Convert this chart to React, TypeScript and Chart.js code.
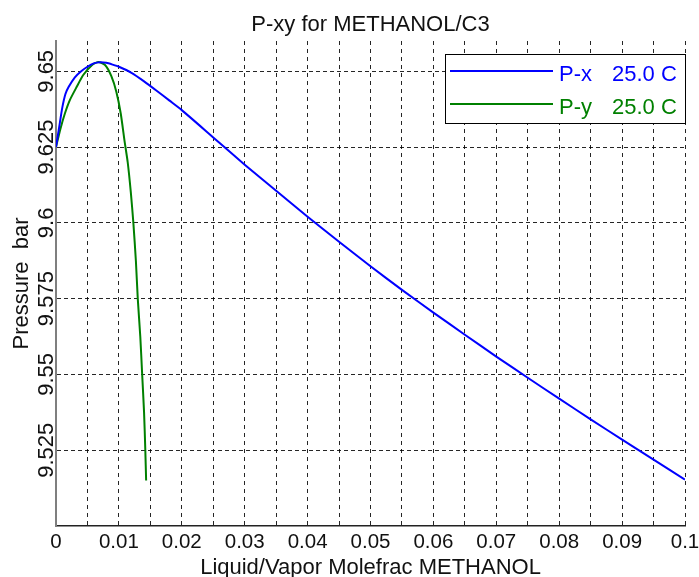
import React, { useEffect, useRef } from "react";
import { Chart, registerables } from "chart.js";

Chart.register(...registerables);

// ---- data ----
const titleText = "P-xy for METHANOL/C3";
const xTitle = "Liquid/Vapor Molefrac METHANOL";
const yTitle = "Pressure  bar";
const seriesNames = ["P-x", "P-y"];
const seriesTemps = ["25.0 C", "25.0 C"];
const seriesColors = ["#0000ff", "#008000"];

// P-x (liquid composition vs pressure)
const liquidX = [
  0, 0.0005, 0.001, 0.0015, 0.002, 0.003, 0.004, 0.005, 0.006, 0.007, 0.008, 0.009, 0.01,
  0.012, 0.014, 0.016, 0.018, 0.02, 0.025, 0.03, 0.035, 0.04, 0.045, 0.05, 0.055, 0.06,
  0.065, 0.07, 0.075, 0.08, 0.085, 0.09, 0.095, 0.1,
];
const liquidP = [
  9.625, 9.6315, 9.638, 9.6425, 9.6448, 9.648, 9.65, 9.6515, 9.6526, 9.653, 9.6528, 9.6522,
  9.6515, 9.6495, 9.6467, 9.6436, 9.6404, 9.6372, 9.6282, 9.6192, 9.6106, 9.602, 9.5938,
  9.5857, 9.5779, 9.5704, 9.5631, 9.5559, 9.5489, 9.542, 9.5352, 9.5285, 9.5219, 9.5153,
];

// P-y (vapor composition vs pressure)
const vaporY = [
  0, 0.0007, 0.0014, 0.0022, 0.0033, 0.0043, 0.0057, 0.0067, 0.0078, 0.0088, 0.0096, 0.0103,
  0.0109, 0.0114, 0.0119, 0.0123, 0.0127, 0.013, 0.0134, 0.0137, 0.014, 0.0142, 0.01433,
];
const vaporP = [
  9.625, 9.631, 9.636, 9.6405, 9.6449, 9.6487, 9.652, 9.6531, 9.6521, 9.6484, 9.6432, 9.636,
  9.627, 9.62, 9.61, 9.6, 9.5875, 9.575, 9.5625, 9.55, 9.5375, 9.525, 9.515,
];

const xMin = 0;
const xMax = 0.1;
const yMin = 9.5;
const yMax = 9.66;

const xGridValues = [
  0, 0.005, 0.01, 0.015, 0.02, 0.025, 0.03, 0.035, 0.04, 0.045, 0.05, 0.055, 0.06, 0.065,
  0.07, 0.075, 0.08, 0.085, 0.09, 0.095, 0.1,
];
const xTickValues = [0, 0.01, 0.02, 0.03, 0.04, 0.05, 0.06, 0.07, 0.08, 0.09, 0.1];
const xTickLabels = ["0", "0.01", "0.02", "0.03", "0.04", "0.05", "0.06", "0.07", "0.08", "0.09", "0.1"];
const yTickValues = [9.525, 9.55, 9.575, 9.6, 9.625, 9.65];
const yTickLabels = ["9.525", "9.55", "9.575", "9.6", "9.625", "9.65"];

const FONT = '"Liberation Sans", Arial, Helvetica, sans-serif';

const textPlugin = {
  id: "matlabText",
  afterDraw(chart: any) {
    const { ctx, chartArea, scales } = chart;
    const xs = scales.x;
    const ys = scales.y;
    const cx = (chartArea.left + chartArea.right) / 2;
    const cy = (chartArea.top + chartArea.bottom) / 2;
    ctx.save();
    ctx.fillStyle = "#111";
    ctx.textBaseline = "alphabetic";
    ctx.textAlign = "center";

    // title
    ctx.font = `22px ${FONT}`;
    ctx.fillText(titleText, cx, chartArea.top - 10);

    // x tick labels
    ctx.font = `20.5px ${FONT}`;
    xTickValues.forEach((v, i) => {
      ctx.fillText(xTickLabels[i], xs.getPixelForValue(v), chartArea.bottom + 22);
    });

    // x title
    ctx.font = `22px ${FONT}`;
    ctx.fillText(xTitle, cx, chartArea.bottom + 48);

    // y tick labels (rotated)
    ctx.font = `22px ${FONT}`;
    yTickValues.forEach((v, i) => {
      ctx.save();
      ctx.translate(chartArea.left - 3, ys.getPixelForValue(v));
      ctx.rotate(-Math.PI / 2);
      ctx.fillText(yTickLabels[i], 0, 0);
      ctx.restore();
    });

    // y title
    ctx.save();
    ctx.translate(28, cy);
    ctx.rotate(-Math.PI / 2);
    ctx.fillText(yTitle, 0, 0);
    ctx.restore();

    // legend
    const lw = 240;
    const lh = 69;
    const lx = chartArea.right - lw;
    const ly = chartArea.top + 13;
    ctx.fillStyle = "#ffffff";
    ctx.fillRect(lx, ly, lw, lh);
    ctx.strokeStyle = "#000";
    ctx.lineWidth = 1;
    ctx.strokeRect(lx + 0.5, ly + 0.5, lw, lh);
    ctx.font = `22px ${FONT}`;
    ctx.textAlign = "left";
    seriesNames.forEach((name, i) => {
      const lineY = ly + 17 + i * 33;
      ctx.strokeStyle = seriesColors[i];
      ctx.lineWidth = 2;
      ctx.beginPath();
      ctx.moveTo(lx + 5, lineY);
      ctx.lineTo(lx + 108, lineY);
      ctx.stroke();
      ctx.fillStyle = seriesColors[i];
      ctx.fillText(name, lx + 114, ly + 27 + i * 33);
      ctx.fillText(seriesTemps[i], lx + 167, ly + 27 + i * 33);
    });

    ctx.restore();
  },
};

export default function App() {
  const ref = useRef<HTMLCanvasElement | null>(null);

  useEffect(() => {
    if (!ref.current) return;
    const chart = new Chart(ref.current, {
      type: "scatter",
      data: {
        datasets: [
          {
            label: seriesNames[0],
            data: liquidX.map((x, i) => ({ x, y: liquidP[i] })),
            showLine: true,
            borderColor: seriesColors[0],
            backgroundColor: seriesColors[0],
            borderWidth: 2,
            pointRadius: 0,
            tension: 0.2,
          },
          {
            label: seriesNames[1],
            data: vaporY.map((x, i) => ({ x, y: vaporP[i] })),
            showLine: true,
            borderColor: seriesColors[1],
            backgroundColor: seriesColors[1],
            borderWidth: 2,
            pointRadius: 0,
            tension: 0.2,
          },
        ],
      },
      options: {
        responsive: false,
        animation: false,
        layout: { padding: { top: 41, right: 14, left: 0, bottom: 0 } },
        plugins: {
          legend: { display: false },
          title: { display: false },
          tooltip: { enabled: false },
        },
        scales: {
          x: {
            type: "linear",
            min: xMin,
            max: xMax,
            afterBuildTicks: (scale: any) => {
              scale.ticks = xGridValues.map((v) => ({ value: v }));
            },
            afterFit: (scale: any) => {
              scale.height = 51;
            },
            ticks: { display: false },
            grid: {
              color: "rgba(0,0,0,0.85)",
              lineWidth: 1,
              drawTicks: false,
            },
            border: { display: true, color: "#222", width: 1.5, dash: [4, 4] },
            title: { display: false },
          },
          y: {
            type: "linear",
            min: yMin,
            max: yMax,
            afterBuildTicks: (scale: any) => {
              scale.ticks = yTickValues.map((v) => ({ value: v }));
            },
            afterFit: (scale: any) => {
              scale.width = 56;
            },
            ticks: { display: false },
            grid: {
              color: "rgba(0,0,0,0.85)",
              lineWidth: 1,
              drawTicks: false,
            },
            border: { display: true, color: "#7f7f7f", width: 2, dash: [4, 3] },
            title: { display: false },
          },
        },
      },
      plugins: [textPlugin],
    } as any);
    return () => chart.destroy();
  }, []);

  return (
    <div style={{ position: "absolute", left: 0, top: 0, width: 699, height: 577, background: "#fff" }}>
      <canvas ref={ref} width={699} height={577} style={{ display: "block" }} />
    </div>
  );
}
